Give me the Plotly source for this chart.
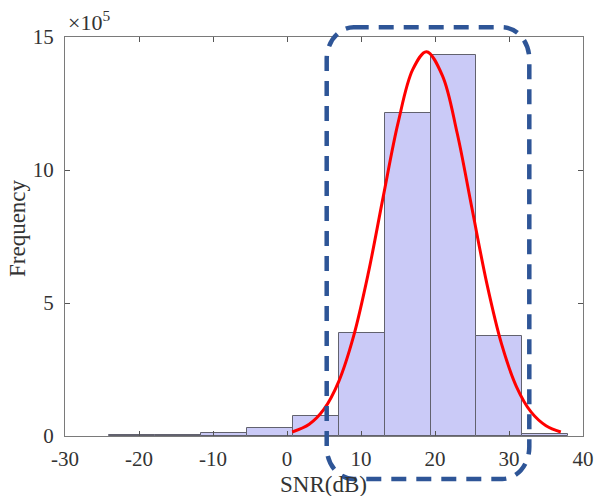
import plotly.graph_objects as go

# Histogram data (SNR bins in dB, counts)
bin_edges = [-24.0, -17.8, -11.6, -5.4, 0.8, 7.0, 13.2, 19.4, 25.6, 31.8, 38.0]
counts = [2000, 5000, 13000, 31000, 74000, 387000, 1213000, 1432000, 376000, 7000]

# Fitted curve points
curve_x = [0.7, 3, 5, 7, 9, 11, 13, 15, 17, 18.85, 21, 23, 25, 27, 29, 31, 33, 35, 37]
curve_y = [15000, 44100, 100700, 205600, 375400, 614000, 899000, 1176000, 1378000,
           1445000, 1355000, 1138000, 855000, 574000, 345500, 186000, 89600, 38600, 14900]

x_ticks = [-30, -20, -10, 0, 10, 20, 30, 40]
x_ticktext = ["-30", "-20", "-10", "0", "10", "20", "30", "40"]
y_ticks = [0, 500000, 1000000, 1500000]
y_ticktext = ["0", "5", "10", "15"]

centers = [(a + b) / 2 for a, b in zip(bin_edges[:-1], bin_edges[1:])]
widths = [b - a for a, b in zip(bin_edges[:-1], bin_edges[1:])]

FONT = "Liberation Serif, Times New Roman, serif"
TXT = "#333333"

fig = go.Figure()
fig.add_trace(go.Bar(
    x=centers, y=counts, width=widths,
    marker=dict(color="#CACAF7", line=dict(color="#62626E", width=1)),
    showlegend=False,
))
fig.add_trace(go.Scatter(
    x=curve_x, y=curve_y, mode="lines",
    line=dict(color="#FF0000", width=3, shape="spline"),
    showlegend=False,
))

L, R, T, B = 65, 12, 37, 60
W, H = 595, 496
pw, ph = W - L - R, H - T - B

def px(xp):
    return (xp - L) / pw

def py(yp):
    return (H - B - yp) / ph

# rounded dashed rectangle (pixel geometry converted to paper coords)
x0, x1, y0, y1 = px(326.7), px(529.3), py(479), py(27.3)
rx, ry = 27 / pw, 32 / ph
k = 0.5523
path = (
    f"M {x0+rx},{y1} L {x1-rx},{y1} "
    f"C {x1-rx+k*rx},{y1} {x1},{y1-ry+k*ry} {x1},{y1-ry} "
    f"L {x1},{y0+ry} "
    f"C {x1},{y0+ry-k*ry} {x1-rx+k*rx},{y0} {x1-rx},{y0} "
    f"L {x0+rx},{y0} "
    f"C {x0+rx-k*rx},{y0} {x0},{y0+ry-k*ry} {x0},{y0+ry} "
    f"L {x0},{y1-ry} "
    f"C {x0},{y1-ry+k*ry} {x0+rx-k*rx},{y1} {x0+rx},{y1} Z"
)
fig.add_shape(type="path", xref="paper", yref="paper", path=path,
              line=dict(color="#2E5597", width=4.5, dash="15px,10px"),
              fillcolor="rgba(0,0,0,0)", layer="above")

fig.update_layout(
    width=W, height=H,
    margin=dict(l=L, r=R, t=T, b=B, autoexpand=False),
    paper_bgcolor="white", plot_bgcolor="white",
    font=dict(family=FONT, size=21, color=TXT),
    bargap=0,
    xaxis=dict(
        range=[-30, 40], tickvals=x_ticks, ticktext=x_ticktext, ticks="inside", ticklen=5,
        tickcolor="#555555", showline=True, linecolor="#7A7A7A", linewidth=1,
        mirror="ticks", showgrid=False, zeroline=False, automargin=False,
        tickfont=dict(family=FONT, size=21, color=TXT), ticklabelstandoff=4,
    ),
    yaxis=dict(
        range=[0, 1500000], tickvals=y_ticks, ticktext=y_ticktext, ticks="inside",
        ticklen=5, tickcolor="#555555", showline=True, linecolor="#7A7A7A", linewidth=1,
        mirror="ticks", showgrid=False, zeroline=False, automargin=False,
        tickfont=dict(family=FONT, size=21, color=TXT), ticklabelstandoff=6,
    ),
    annotations=[
        dict(text="×10<sup>5</sup>", xref="paper", yref="paper", x=0.002, y=1.0,
             xanchor="left", yanchor="bottom", showarrow=False,
             font=dict(family=FONT, size=22, color=TXT)),
        dict(text="SNR(dB)", xref="paper", yref="paper", x=px(323.7), y=py(484),
             xanchor="center", yanchor="middle", showarrow=False,
             font=dict(family=FONT, size=23, color=TXT)),
        dict(text="Frequency", xref="paper", yref="paper", x=px(17), y=py(228),
             xanchor="center", yanchor="middle", showarrow=False, textangle=-90,
             font=dict(family=FONT, size=23, color=TXT)),
    ],
)

fig.write_html("out.html")
